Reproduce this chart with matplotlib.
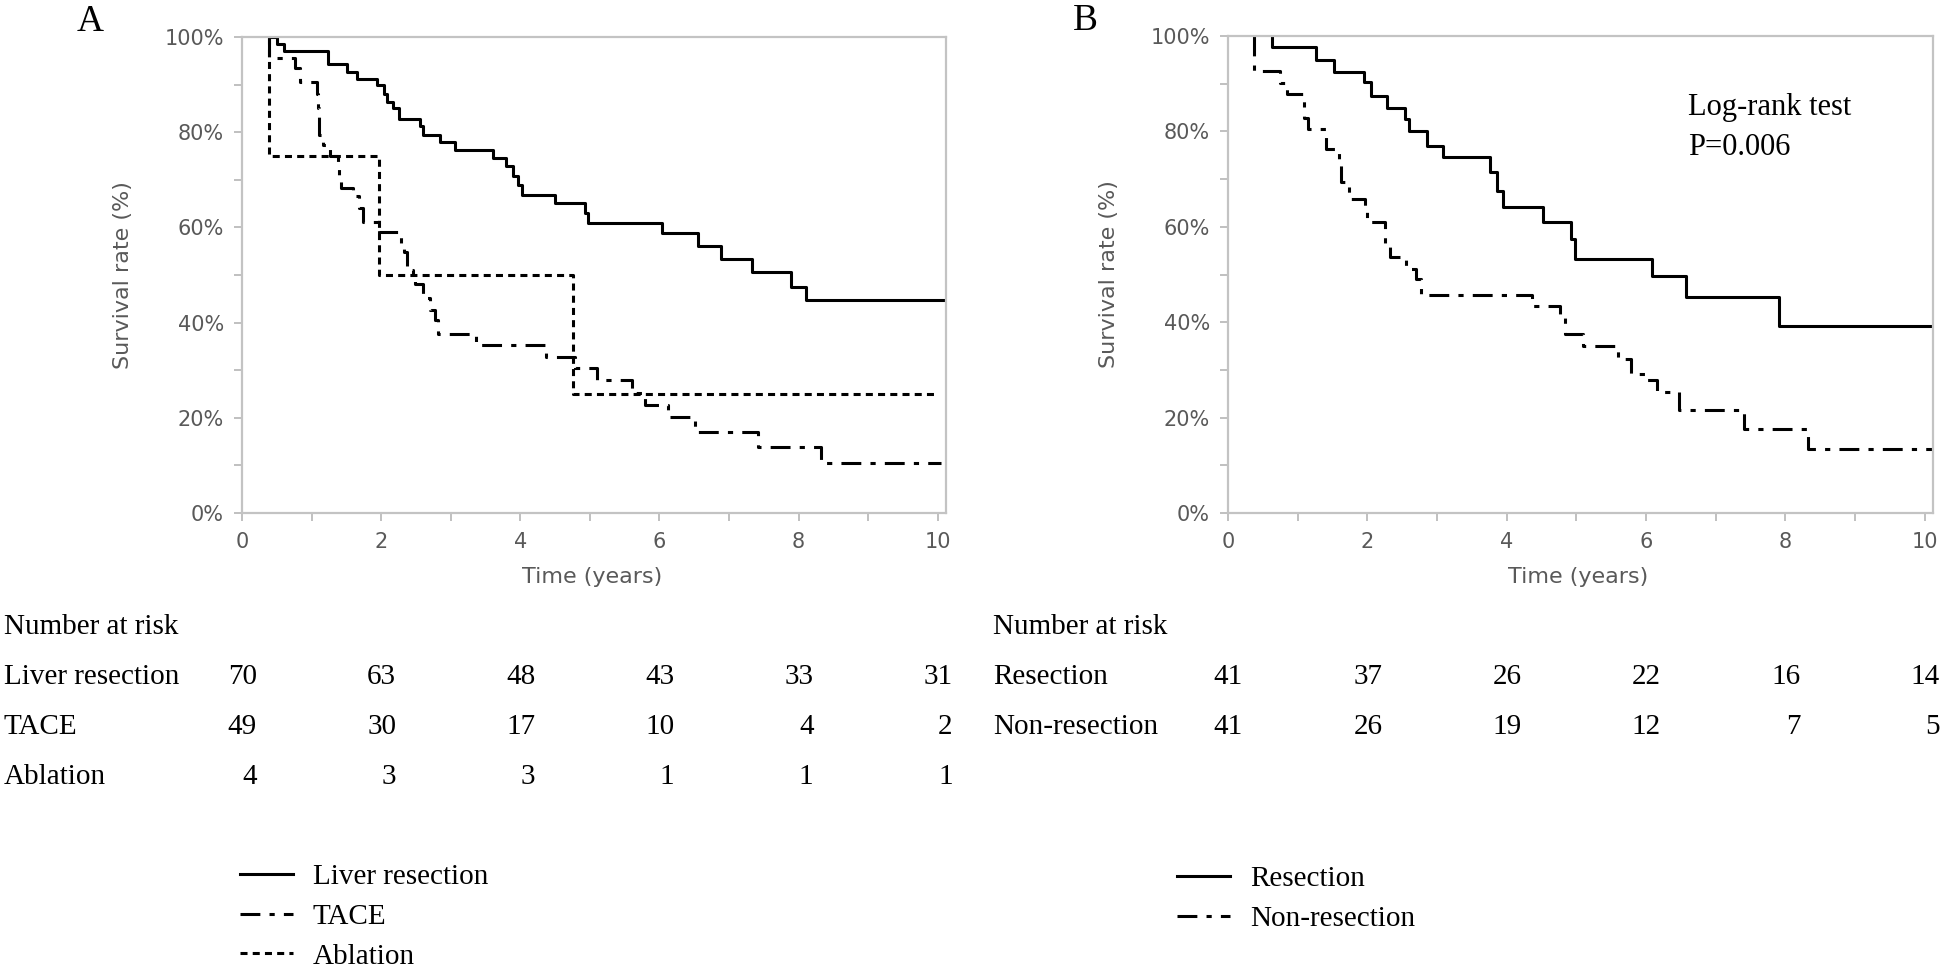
import numpy as np
import matplotlib.pyplot as plt
from matplotlib import transforms

# ---- panel A: survival curves (years, % surviving after each step) ----
lr_t = [0.40, 0.50, 0.60, 1.23, 1.51, 1.66, 1.94, 2.04, 2.08, 2.17, 2.26, 2.56, 2.60, 2.84,
        3.06, 3.61, 3.80, 3.90, 3.97, 4.03, 4.50, 4.93, 4.98, 6.04, 6.56, 6.88, 7.33, 7.89,
        8.11, 10.11]
lr_s = [100, 98.6, 97.1, 94.3, 92.7, 91.1, 89.9, 88.1, 86.4, 85.0, 82.7, 81.2, 79.4, 78.0,
        76.3, 74.5, 72.8, 70.7, 68.9, 66.8, 65.1, 63.0, 61.0, 58.8, 56.1, 53.4, 50.7, 47.5,
        44.7, 44.7]

tace_t = [0.39, 0.39, 0.76, 0.83, 1.08, 1.09, 1.10, 1.11, 1.17, 1.27, 1.38, 1.40, 1.43, 1.60,
          1.68, 1.74, 1.97, 2.29, 2.33, 2.37, 2.46, 2.49, 2.60, 2.70, 2.78, 2.82, 3.37, 4.37,
          4.78, 5.10, 5.61, 5.79, 6.13, 6.51, 7.42, 8.32, 10.05]
tace_s = [100, 95.5, 93.5, 90.6, 88.0, 85.0, 82.0, 79.4, 77.3, 74.9, 73.1, 70.7, 68.2, 66.5,
          64.0, 61.2, 59.1, 56.0, 54.9, 51.1, 50.0, 48.2, 45.1, 42.6, 40.5, 37.6, 35.3, 32.8,
          30.4, 27.9, 25.2, 22.7, 20.1, 17.1, 13.9, 10.4, 10.4]

abl_t = [0.39, 0.39, 1.97, 4.76, 10.0]
abl_s = [100, 75, 50, 25, 25]

# ---- panel B ----
res_t = [0.63, 0.63, 1.27, 1.52, 1.95, 2.05, 2.28, 2.54, 2.60, 2.85, 3.08, 3.76, 3.86, 3.95,
         4.52, 4.93, 4.98, 6.08, 6.58, 7.91, 10.11]
res_s = [100, 97.6, 95.0, 92.4, 90.3, 87.5, 84.9, 82.6, 80.1, 77.0, 74.7, 71.4, 67.6, 64.1,
         61.0, 57.5, 53.3, 49.6, 45.3, 39.3, 39.3]

nres_t = [0.37, 0.37, 0.75, 0.84, 1.09, 1.15, 1.41, 1.60, 1.62, 1.73, 1.97, 2.00, 2.25, 2.32,
          2.56, 2.70, 2.77, 4.36, 4.76, 4.84, 5.10, 5.60, 5.79, 6.02, 6.16, 6.47, 7.40, 8.33,
          10.10]
nres_s = [100, 92.7, 90.2, 87.8, 82.9, 80.5, 76.3, 73.5, 69.3, 65.9, 63.4, 61.0, 56.4, 53.6,
          51.2, 49.1, 45.7, 43.5, 40.8, 37.6, 35.1, 32.3, 29.2, 27.8, 25.4, 21.5, 17.6, 13.5,
          13.5]

# ---- number at risk ----
risk_years = [0, 2, 4, 6, 8, 10]
risk_lr = [70, 63, 48, 43, 33, 31]
risk_tace = [49, 30, 17, 10, 4, 2]
risk_abl = [4, 3, 3, 1, 1, 1]
risk_res = [41, 37, 26, 22, 16, 14]
risk_nres = [41, 26, 19, 12, 7, 5]

SERIF = ['Liberation Serif', 'DejaVu Serif']
GRAY = '#595959'
DASHDOT = (0, (6.5, 3, 1.7, 3))
DOTTED = (0, (2.3, 1.7))

W, H = 1946, 974
fig = plt.figure(figsize=(W / 100, H / 100), dpi=100)


def box(l, t, r, b):
    return [l / W, 1 - b / H, (r - l) / W, (b - t) / H]


def style(ax):
    ax.set_xlim(0, 10.12)
    ax.set_ylim(0, 100)
    ax.set_xticks(range(0, 11, 2))
    ax.set_xticks(range(1, 11, 2), minor=True)
    ax.set_yticks(range(0, 101, 20))
    ax.set_yticks(range(10, 100, 20), minor=True)
    ax.set_yticklabels([f"{v}%" for v in range(0, 101, 20)])
    for sp in ax.spines.values():
        sp.set_color('#c3c3c3')
        sp.set_linewidth(1.6)
    ax.tick_params(which='both', direction='out', length=6, width=1.2,
                   color='#b5b5b5', labelcolor=GRAY, labelsize=15)
    ax.tick_params(axis='x', pad=8)
    ax.tick_params(axis='y', pad=7)
    ax.set_xlabel('Time (years)', fontsize=16, color=GRAY)
    ax.set_ylabel('Survival rate (%)', fontsize=16, color=GRAY)
    ax.xaxis.set_label_coords(0.497, -0.113)
    ax.yaxis.set_label_coords(-0.155, 0.5)


axA = fig.add_axes(box(242, 37, 946, 513))
axB = fig.add_axes(box(1228, 36, 1933, 513))
style(axA)
style(axB)

lw = 2.2
l_lr, = axA.step(lr_t, lr_s, where='post', color='black', lw=lw)
l_tace, = axA.step(tace_t, tace_s, where='post', color='black', lw=lw, linestyle=DASHDOT)
l_abl, = axA.step(abl_t, abl_s, where='post', color='black', lw=lw, linestyle=DOTTED)

l_res, = axB.step(res_t, res_s, where='post', color='black', lw=lw)
l_nres, = axB.step(nres_t, nres_s, where='post', color='black', lw=lw, linestyle=DASHDOT)

axB.text(0.652, 0.851, 'Log-rank test', transform=axB.transAxes, fontsize=22,
         family=SERIF, va='center')
axB.text(0.652, 0.767, 'P=0.006', transform=axB.transAxes, fontsize=22,
         family=SERIF, va='center')

fig.text(90 / W, 1 - 22 / H, 'A', fontsize=27, family=SERIF, ha='center', va='center')
fig.text(1085 / W, 1 - 21 / H, 'B', fontsize=27, family=SERIF, ha='center', va='center')

# number at risk tables
row_y = [627, 677, 727, 777]


def risk_table(ax, label_x, rows):
    fig.text(label_x / W, 1 - row_y[0] / H, 'Number at risk', fontsize=21,
             family=SERIF, va='center')
    off = transforms.ScaledTranslation(15 / 100, 0, fig.dpi_scale_trans)
    trans = transforms.blended_transform_factory(ax.transData, fig.transFigure) + off
    for i, (name, vals) in enumerate(rows):
        y = 1 - row_y[i + 1] / H
        fig.text(label_x / W, y, name, fontsize=21, family=SERIF, va='center')
        for yr, v in zip(risk_years, vals):
            fig.text(yr, y, str(v), transform=trans, fontsize=21, family=SERIF,
                     ha='right', va='center')


risk_table(axA, 4, [('Liver resection', risk_lr), ('TACE', risk_tace), ('Ablation', risk_abl)])
risk_table(axB, 993, [('Resection', risk_res), ('Non-resection', risk_nres)])

legkw = dict(loc='upper left', frameon=False, prop={'family': SERIF, 'size': 21},
             handlelength=1.8, handletextpad=0.7, labelspacing=0.45,
             borderpad=0, borderaxespad=0)
fig.legend([l_lr, l_tace, l_abl], ['Liver resection', 'TACE', 'Ablation'],
           bbox_to_anchor=(240 / W, 1 - 864 / H), **legkw)
fig.legend([l_res, l_nres], ['Resection', 'Non-resection'],
           bbox_to_anchor=(1177 / W, 1 - 866 / H), **legkw)

fig.savefig('out.png', dpi=100)
